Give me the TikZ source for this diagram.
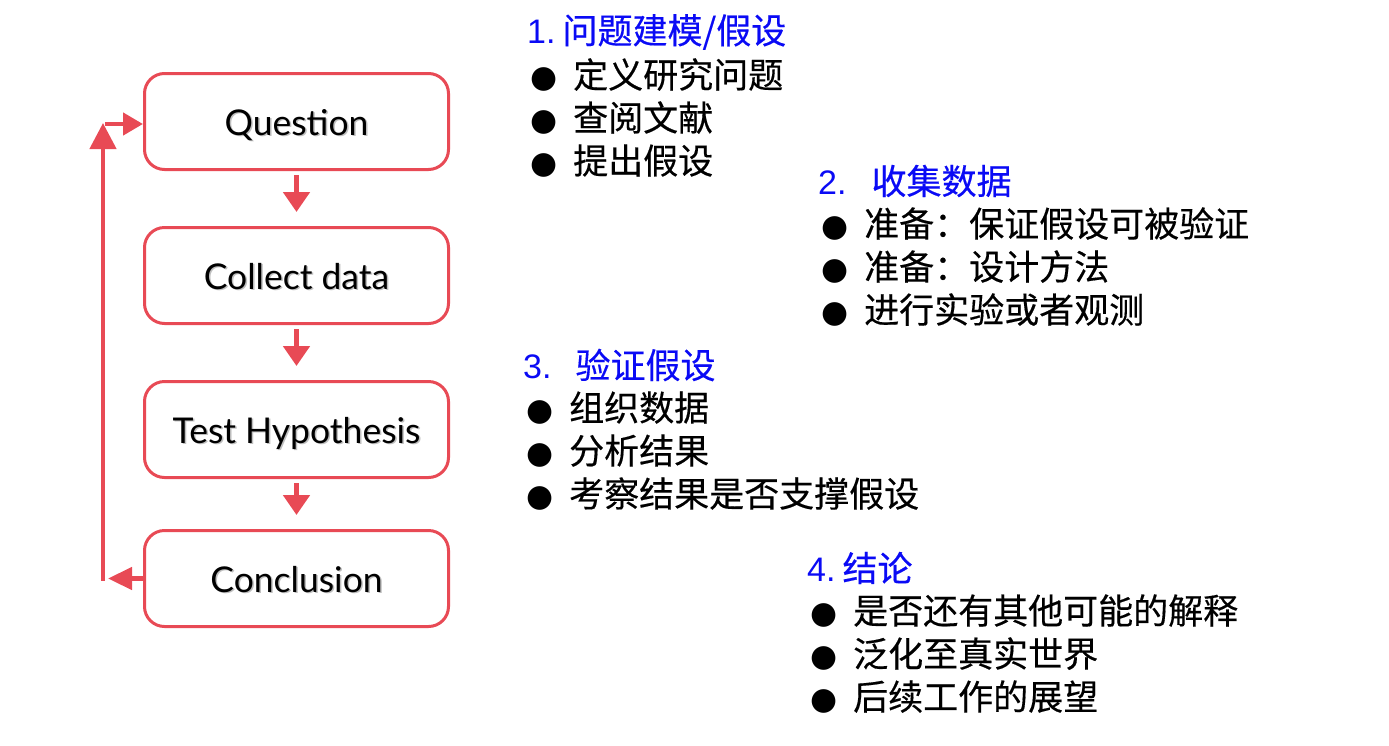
\documentclass[tikz,border=0pt]{standalone}
\usepackage{fontspec}
\setmainfont{Liberation Sans}
\newfontfamily\cjk[FakeBold=0.4]{Noto Sans CJK SC}
\newfontfamily\boxfont{Lato}
\newfontfamily\dv{DejaVu Sans}
\usetikzlibrary{arrows.meta}
\definecolor{boxred}{RGB}{232,74,85}
\definecolor{ttlblue}{RGB}{10,10,245}
\newcommand\bul{\makebox[43pt][l]{\dv\fontsize{31}{31}\selectfont ●}}
\newcommand\shtxt[1]{\makebox[0pt][l]{\raisebox{-1.5pt}{\hspace{1.5pt}\textcolor{black!25}{#1}}}#1}
\tikzset{
  stepbox/.style={draw=boxred, line width=3pt, rounded corners=20pt, fill=white,
    minimum width=304pt, minimum height=96pt, inner sep=0pt,
    text height=30pt, text depth=3pt,
    font=\boxfont\fontsize{35.5}{38}\selectfont},
  flow/.style={draw=boxred, line width=5pt, -{Triangle[width=26pt,length=20pt]},
    shorten <=4pt, shorten >=14pt},
  loopst/.style={draw=boxred, line width=4.5pt},
  item/.style={anchor=west, inner sep=0pt, font=\cjk\fontsize{35}{42}\selectfont},
  ttl/.style={anchor=west, inner sep=0pt, text=ttlblue, font=\fontsize{34}{42}\selectfont},
}
\begin{document}
\begin{tikzpicture}[x=1pt,y=-1pt]
\useasboundingbox (0,0) rectangle (1389,745);

% flowchart boxes
\node[stepbox] (q)   at (296.5,121.5) {\shtxt{Question}};
\node[stepbox] (cd)  at (296.5,275.5) {\shtxt{Collect data}};
\node[stepbox] (th)  at (296.5,429.5) {\shtxt{Test Hypothesis}};
\node[stepbox] (con) at (296.5,578.5) {\shtxt{Conclusion}};

\draw[flow] (q) -- (cd);
\draw[flow] (cd) -- (th);
\draw[flow] (th) -- (con);

% feedback loop
\coordinate (ltip) at (108,578.5);
\coordinate (lb) at (103,578.5);
\coordinate (lt) at (103,123);
\coordinate (lr) at (105,124);
\draw[loopst, -{Triangle[width=22pt,length=24pt]}] (con.west) -- (ltip);
\draw[loopst, line cap=rect, -{Triangle[width=26pt,length=26pt]}] (lb) -- (lt);
\draw[loopst, -{Triangle[width=22pt,length=20pt]}] (lr) -- (q.west |- lr);

% section 1
\node[ttl] (t1) at (527,32) {1.\hspace{7pt}{\cjk\fontsize{35}{42}\selectfont 问题建模/假设}};
\node[item] (a1) at (530,75)  {\bul 定义研究问题};
\node[item] (a2) at (530,118) {\bul 查阅文献};
\node[item] (a3) at (530,161) {\bul 提出假设};

% section 2
\node[ttl] (t2) at (818,181) {2.\hspace{25pt}{\cjk\fontsize{35}{42}\selectfont 收集数据}};
\node[item] (b1) at (821,224) {\bul 准备：保证假设可被验证};
\node[item] (b2) at (821,267) {\bul 准备：设计方法};
\node[item] (b3) at (821,310) {\bul 进行实验或者观测};

% section 3
\node[ttl] (t3) at (523,365) {3.\hspace{24pt}{\cjk\fontsize{35}{42}\selectfont 验证假设}};
\node[item] (c1) at (526,408) {\bul 组织数据};
\node[item] (c2) at (526,451) {\bul 分析结果};
\node[item] (c3) at (526,494) {\bul 考察结果是否支撑假设};

% section 4
\node[ttl] (t4) at (807,568) {4.\hspace{7pt}{\cjk\fontsize{35}{42}\selectfont 结论}};
\node[item] (d1) at (810,611) {\bul 是否还有其他可能的解释};
\node[item] (d2) at (810,654) {\bul 泛化至真实世界};
\node[item] (d3) at (810,697) {\bul 后续工作的展望};
\end{tikzpicture}
\end{document}
